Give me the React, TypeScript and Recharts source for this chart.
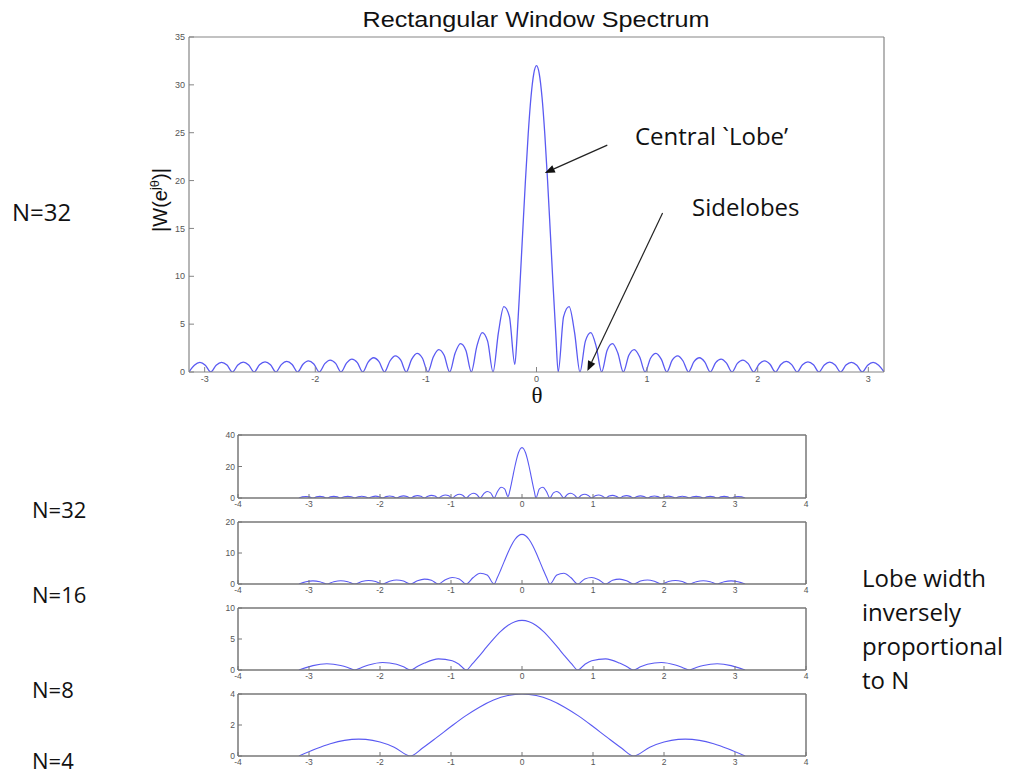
import { LineChart, Line, XAxis, YAxis, ReferenceLine } from 'recharts'

// |W(e^jθ)|: [theta, magnitude]
const N32_WINDOW: [number, number][] = [
  [-3.142, 0], [-3.093, 0.71], [-3.043, 1.0], [-2.994, 0.71],
  [-2.945, 0], [-2.896, 0.71], [-2.847, 1.01], [-2.798, 0.72],
  [-2.749, 0], [-2.7, 0.73], [-2.651, 1.03], [-2.602, 0.73],
  [-2.553, 0], [-2.504, 0.75], [-2.454, 1.06], [-2.405, 0.76],
  [-2.356, 0], [-2.307, 0.77], [-2.258, 1.11], [-2.209, 0.79],
  [-2.16, 0], [-2.111, 0.81], [-2.062, 1.17], [-2.013, 0.84],
  [-1.963, 0], [-1.914, 0.87], [-1.865, 1.25], [-1.816, 0.9],
  [-1.767, 0], [-1.718, 0.93], [-1.669, 1.35], [-1.62, 0.98],
  [-1.571, 0], [-1.522, 1.03], [-1.473, 1.49], [-1.424, 1.08],
  [-1.374, 0], [-1.325, 1.15], [-1.276, 1.68], [-1.227, 1.23],
  [-1.178, 0], [-1.129, 1.32], [-1.08, 1.95], [-1.031, 1.44],
  [-0.982, 0], [-0.933, 1.57], [-0.884, 2.34], [-0.835, 1.75],
  [-0.785, 0], [-0.736, 1.97], [-0.687, 2.97], [-0.638, 2.25],
  [-0.589, 0], [-0.54, 2.65], [-0.491, 4.12], [-0.442, 3.23],
  [-0.393, 0], [-0.344, 4.14], [-0.295, 6.82], [-0.245, 5.78],
  [-0.196, 0.8],
  [-0.175, 3.83], [-0.15, 9.02], [-0.125, 14.56], [-0.1, 20.0],
  [-0.075, 24.86], [-0.05, 28.7], [-0.025, 31.15],
  [0, 32],
  [0.025, 31.15], [0.05, 28.7], [0.075, 24.86], [0.1, 20.0],
  [0.125, 14.56], [0.15, 9.02], [0.175, 3.83],
  [0.196, 0],
  [0.245, 5.78], [0.295, 6.82], [0.344, 4.14], [0.393, 0],
  [0.442, 3.23], [0.491, 4.12], [0.54, 2.65], [0.589, 0],
  [0.638, 2.25], [0.687, 2.97], [0.736, 1.97], [0.785, 0],
  [0.835, 1.75], [0.884, 2.34], [0.933, 1.57], [0.982, 0],
  [1.031, 1.44], [1.08, 1.95], [1.129, 1.32], [1.178, 0],
  [1.227, 1.23], [1.276, 1.68], [1.325, 1.15], [1.374, 0],
  [1.424, 1.08], [1.473, 1.49], [1.522, 1.03], [1.571, 0],
  [1.62, 0.98], [1.669, 1.35], [1.718, 0.93], [1.767, 0],
  [1.816, 0.9], [1.865, 1.25], [1.914, 0.87], [1.963, 0],
  [2.013, 0.84], [2.062, 1.17], [2.111, 0.81], [2.16, 0],
  [2.209, 0.79], [2.258, 1.11], [2.307, 0.77], [2.356, 0],
  [2.405, 0.76], [2.454, 1.06], [2.504, 0.75], [2.553, 0],
  [2.602, 0.73], [2.651, 1.03], [2.7, 0.73], [2.749, 0],
  [2.798, 0.72], [2.847, 1.01], [2.896, 0.71], [2.945, 0],
  [2.994, 0.71], [3.043, 1.0], [3.093, 0.71], [3.142, 0],
]

const N16_WINDOW: [number, number][] = [
  [-3.142, 0], [-3.043, 0.71], [-2.945, 1.0], [-2.847, 0.72],
  [-2.749, 0], [-2.651, 0.73], [-2.553, 1.05], [-2.454, 0.75],
  [-2.356, 0], [-2.258, 0.78], [-2.16, 1.13], [-2.062, 0.82],
  [-1.963, 0], [-1.865, 0.88], [-1.767, 1.29], [-1.669, 0.95],
  [-1.571, 0], [-1.473, 1.05], [-1.374, 1.58], [-1.276, 1.19],
  [-1.178, 0], [-1.08, 1.38], [-0.982, 2.12], [-0.884, 1.65],
  [-0.785, 0], [-0.687, 2.1], [-0.589, 3.45], [-0.491, 2.91],
  [-0.393, 0],
  [-0.35, 1.92], [-0.3, 4.52], [-0.25, 7.29], [-0.2, 10.01],
  [-0.15, 12.44], [-0.1, 14.35], [-0.05, 15.58],
  [0, 16],
  [0.05, 15.58], [0.1, 14.35], [0.15, 12.44], [0.2, 10.01],
  [0.25, 7.29], [0.3, 4.52], [0.35, 1.92],
  [0.393, 0],
  [0.491, 2.91], [0.589, 3.45], [0.687, 2.1], [0.785, 0],
  [0.884, 1.65], [0.982, 2.12], [1.08, 1.38], [1.178, 0],
  [1.276, 1.19], [1.374, 1.58], [1.473, 1.05], [1.571, 0],
  [1.669, 0.95], [1.767, 1.29], [1.865, 0.88], [1.963, 0],
  [2.062, 0.82], [2.16, 1.13], [2.258, 0.78], [2.356, 0],
  [2.454, 0.75], [2.553, 1.05], [2.651, 0.73], [2.749, 0],
  [2.847, 0.72], [2.945, 1.0], [3.043, 0.71], [3.142, 0],
]

const N8_WINDOW: [number, number][] = [
  [-3.142, 0], [-3.043, 0.38], [-2.945, 0.71], [-2.749, 1.02],
  [-2.553, 0.74], [-2.454, 0.41], [-2.356, 0],
  [-2.258, 0.42], [-2.16, 0.8], [-1.963, 1.2], [-1.767, 0.92],
  [-1.669, 0.52], [-1.571, 0],
  [-1.473, 0.57], [-1.374, 1.12], [-1.178, 1.8], [-0.982, 1.5],
  [-0.884, 0.9], [-0.785, 0],
  [-0.7, 0.98], [-0.6, 2.29], [-0.5, 3.68], [-0.4, 5.03],
  [-0.3, 6.24], [-0.2, 7.19], [-0.1, 7.79],
  [0, 8],
  [0.1, 7.79], [0.2, 7.19], [0.3, 6.24], [0.4, 5.03],
  [0.5, 3.68], [0.6, 2.29], [0.7, 0.98],
  [0.785, 0], [0.884, 0.9], [0.982, 1.5], [1.178, 1.8],
  [1.374, 1.12], [1.473, 0.57], [1.571, 0],
  [1.669, 0.52], [1.767, 0.92], [1.963, 1.2], [2.16, 0.8],
  [2.258, 0.42], [2.356, 0],
  [2.454, 0.41], [2.553, 0.74], [2.749, 1.02], [2.945, 0.71],
  [3.043, 0.38], [3.142, 0],
]

const N4_WINDOW: [number, number][] = [
  [-3.142, 0], [-2.9, 0.47], [-2.7, 0.79], [-2.5, 1.01],
  [-2.3, 1.09], [-2.2, 1.07], [-2.0, 0.9], [-1.8, 0.57],
  [-1.571, 0],
  [-1.4, 0.52], [-1.2, 1.2], [-1.0, 1.9], [-0.8, 2.57],
  [-0.6, 3.15], [-0.4, 3.61], [-0.2, 3.9],
  [0, 4],
  [0.2, 3.9], [0.4, 3.61], [0.6, 3.15], [0.8, 2.57],
  [1.0, 1.9], [1.2, 1.2], [1.4, 0.52],
  [1.571, 0],
  [1.8, 0.57], [2.0, 0.9], [2.2, 1.07], [2.3, 1.09],
  [2.5, 1.01], [2.7, 0.79], [2.9, 0.47], [3.142, 0],
]

const THETA_TICKS = [-3, -2, -1, 0, 1, 2, 3]
const MAIN_Y_TICKS = [0, 5, 10, 15, 20, 25, 30, 35]
const SUB_X_TICKS = [-4, -3, -2, -1, 0, 1, 2, 3, 4]
const SUB_LABELS = ['N=32', 'N=16', 'N=8', 'N=4']
const SUB_Y_TICKS = [[0, 20, 40], [0, 10, 20], [0, 5, 10], [0, 2, 4]]
const NOTE_LINES = ['Lobe width', 'inversely', 'proportional', 'to N']

const toRows = (pairs: [number, number][]) => pairs.map(([t, v]) => ({ t, v }))

const CURVE = '#5a5af2'
const FRAME = '#858585'
const TICK_TEXT = { fontSize: 9, fill: '#555', fontFamily: 'Liberation Sans, Arial, sans-serif' }

const Arrow = (props: any) => {
  const { x1, y1, x2, y2 } = props
  const a = Math.atan2(y2 - y1, x2 - x1)
  const L = 10
  const W = 4
  const bx = x2 - L * Math.cos(a)
  const by = y2 - L * Math.sin(a)
  const pts = `${x2},${y2} ${bx - W * Math.sin(a)},${by + W * Math.cos(a)} ${bx + W * Math.sin(a)},${by - W * Math.cos(a)}`
  return (
    <g>
      <line x1={x1} y1={y1} x2={bx} y2={by} stroke="#222" strokeWidth={1.2} />
      <polygon points={pts} fill="#111" />
    </g>
  )
}

function MainSpectrum() {
  const rows = toRows(N32_WINDOW)
  const frame = { stroke: FRAME, strokeWidth: 1.2 }
  return (
    <div style={{ position: 'absolute', left: 0, top: 0 }}>
      <LineChart width={1018} height={420} data={rows} margin={{ top: 36, right: 133, bottom: 18, left: 159 }}>
        <XAxis dataKey="t" type="number" domain={[-Math.PI, Math.PI]} allowDataOverflow ticks={THETA_TICKS} interval={0}
          height={30} tickSize={-5} tickMargin={9} tick={TICK_TEXT} axisLine={frame} tickLine={{ stroke: FRAME }} />
        <XAxis xAxisId="top" dataKey="t" orientation="top" type="number" domain={[-Math.PI, Math.PI]} allowDataOverflow
          ticks={THETA_TICKS} interval={0} height={1} tickSize={-5} tick={false} axisLine={frame} tickLine={{ stroke: FRAME }} />
        <YAxis type="number" domain={[0, 35]} allowDataOverflow ticks={MAIN_Y_TICKS} interval={0}
          width={30} tickSize={-5} tickMargin={9} tick={TICK_TEXT} axisLine={frame} tickLine={{ stroke: FRAME }} />
        <YAxis yAxisId="right" orientation="right" type="number" domain={[0, 35]} allowDataOverflow ticks={MAIN_Y_TICKS}
          interval={0} width={1} tickSize={-5} tick={false} axisLine={frame} tickLine={{ stroke: FRAME }} />
        <Line xAxisId="top" yAxisId="right" type="monotone" dataKey="v" stroke="none" dot={false} activeDot={false}
          legendType="none" isAnimationActive={false} />
        <Line type="monotone" dataKey="v" stroke={CURVE} strokeWidth={1.3} dot={false} isAnimationActive={false} />
        <ReferenceLine segment={[{ x: 0.64, y: 23.7 }, { x: 0.075, y: 20.8 }]} shape={Arrow} ifOverflow="visible" />
        <ReferenceLine segment={[{ x: 1.14, y: 16.6 }, { x: 0.46, y: 0.1 }]} shape={Arrow} ifOverflow="visible" />
      </LineChart>
    </div>
  )
}

function SubPlot({ pairs, top, plotH, yTicks }: { pairs: [number, number][]; top: number; plotH: number; yTicks: number[] }) {
  const rows = toRows(pairs)
  const yMax = yTicks[yTicks.length - 1]
  const sub = { ...TICK_TEXT, fontSize: 8.5 }
  const frame = { stroke: '#777', strokeWidth: 1.5 }
  return (
    <div style={{ position: 'absolute', left: 0, top: top - 4 }}>
      <LineChart width={1018} height={4 + plotH + 18} data={rows} margin={{ top: 3, right: 211, bottom: 2, left: 208 }}>
        <XAxis dataKey="t" type="number" domain={[-4, 4]} allowDataOverflow ticks={SUB_X_TICKS} interval={0}
          height={16} tickSize={-4} tickMargin={7} tick={sub} axisLine={frame} tickLine={{ stroke: '#777' }} />
        <XAxis xAxisId="top" dataKey="t" orientation="top" type="number" domain={[-4, 4]} allowDataOverflow
          ticks={SUB_X_TICKS} interval={0} height={1} tickSize={-4} tick={false} axisLine={frame} tickLine={{ stroke: '#777' }} />
        <YAxis type="number" domain={[0, yMax]} allowDataOverflow ticks={yTicks} interval={0}
          width={30} tickSize={-4} tickMargin={7} tick={sub} axisLine={frame} tickLine={{ stroke: '#777' }} />
        <YAxis yAxisId="right" orientation="right" type="number" domain={[0, yMax]} allowDataOverflow ticks={yTicks}
          interval={0} width={1} tickSize={-4} tick={false} axisLine={frame} tickLine={{ stroke: '#777' }} />
        <Line xAxisId="top" yAxisId="right" type="monotone" dataKey="v" stroke="none" dot={false} activeDot={false}
          legendType="none" isAnimationActive={false} />
        <Line type="monotone" dataKey="v" stroke={CURVE} strokeWidth={1.1} dot={false} isAnimationActive={false} />
      </LineChart>
    </div>
  )
}

export default function App() {
  const subs = [N32_WINDOW, N16_WINDOW, N8_WINDOW, N4_WINDOW]
  const subTops = [435, 522, 608, 694]
  const subHeights = [63, 62, 62, 62]
  const labelBase = [518, 603, 698, 769]
  const note = { fontFamily: 'Open Sans, Noto Sans, sans-serif', fill: '#111' }
  return (
    <div style={{ position: 'absolute', left: 0, top: 0, width: 1018, height: 776, background: '#fff', overflow: 'hidden' }}>
      <MainSpectrum />
      {subs.map((pairs, i) => (
        <SubPlot key={SUB_LABELS[i]} pairs={pairs} top={subTops[i]} plotH={subHeights[i]} yTicks={SUB_Y_TICKS[i]} />
      ))}
      <svg width={1018} height={776} style={{ position: 'absolute', left: 0, top: 0, pointerEvents: 'none' }}>
        <text x={536} y={27} textAnchor="middle" fontSize={22} fontFamily="Liberation Sans, Arial, sans-serif"
          textLength={347} lengthAdjust="spacingAndGlyphs" fill="#111">Rectangular Window Spectrum</text>
        <text transform="translate(167,200) rotate(-90)" textAnchor="middle" fontSize={20}
          fontFamily="Liberation Sans, Arial, sans-serif" fill="#111">
          |W(e<tspan dy={-8} fontSize={13}>jθ</tspan><tspan dy={8}>)|</tspan>
        </text>
        <text x={537} y={403} textAnchor="middle" fontSize={23} fontFamily="Liberation Serif, DejaVu Serif, serif" fill="#111">θ</text>
        <text x={635} y={145} fontSize={24} {...note}>Central `Lobe’</text>
        <text x={692} y={216} fontSize={24} {...note}>Sidelobes</text>
        <text x={12} y={221} fontSize={24} {...note}>N=32</text>
        {SUB_LABELS.map((lab, i) => (
          <text key={lab} x={32} y={labelBase[i]} fontSize={22} {...note}>{lab}</text>
        ))}
        {NOTE_LINES.map((line, i) => (
          <text key={line} x={862} y={587 + i * 34} fontSize={24} {...note}>{line}</text>
        ))}
      </svg>
    </div>
  )
}
